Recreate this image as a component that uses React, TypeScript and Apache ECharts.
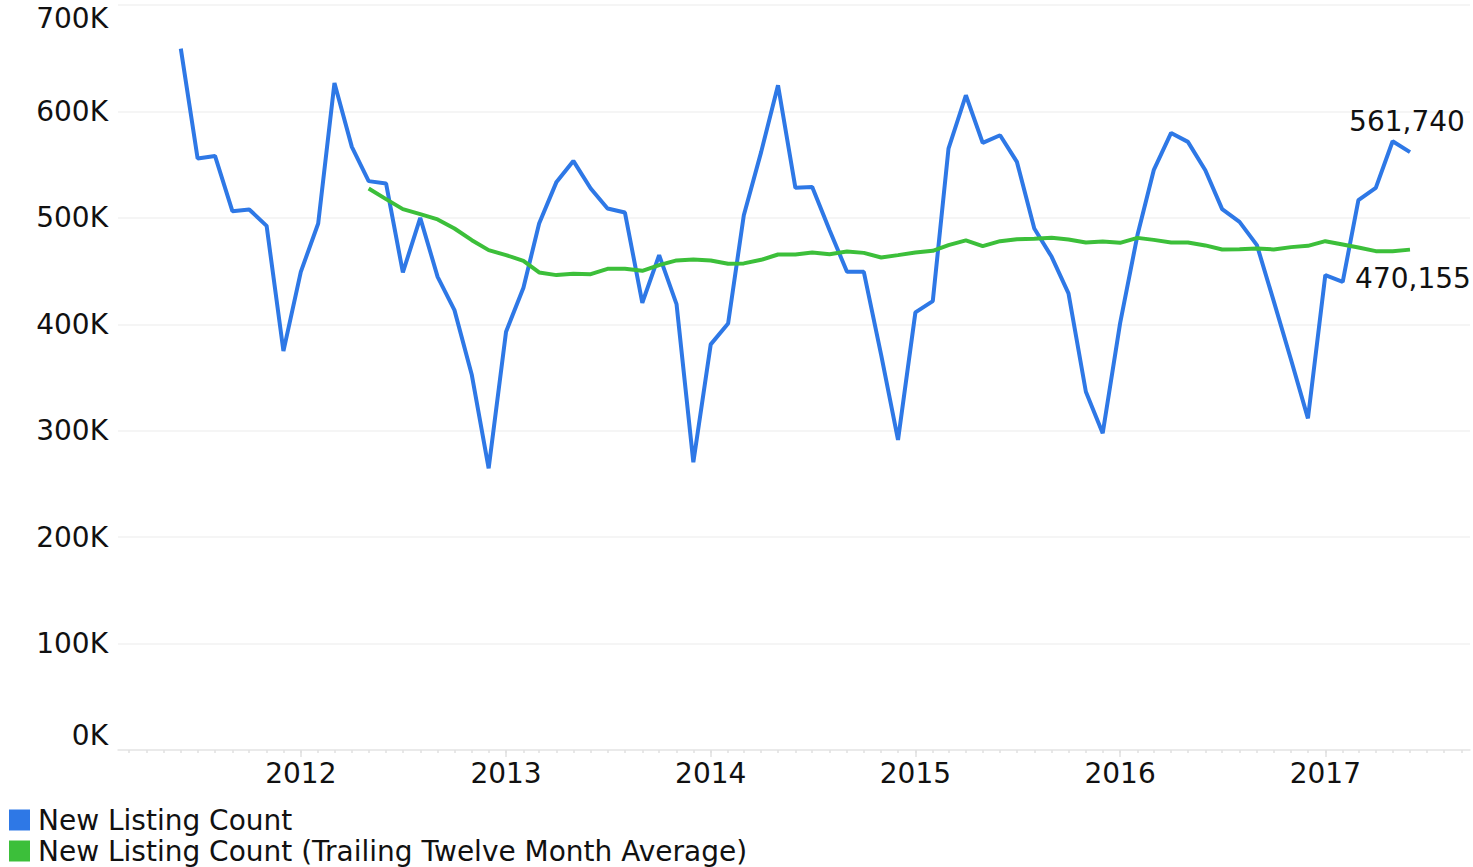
import React, { useEffect, useRef } from "react";
import * as echarts from "echarts";

const MONTHS = [
  "2011-06", "2011-07", "2011-08", "2011-09", "2011-10", "2011-11", "2011-12",
  "2012-01", "2012-02", "2012-03", "2012-04", "2012-05", "2012-06", "2012-07", "2012-08", "2012-09", "2012-10", "2012-11", "2012-12",
  "2013-01", "2013-02", "2013-03", "2013-04", "2013-05", "2013-06", "2013-07", "2013-08", "2013-09", "2013-10", "2013-11", "2013-12",
  "2014-01", "2014-02", "2014-03", "2014-04", "2014-05", "2014-06", "2014-07", "2014-08", "2014-09", "2014-10", "2014-11", "2014-12",
  "2015-01", "2015-02", "2015-03", "2015-04", "2015-05", "2015-06", "2015-07", "2015-08", "2015-09", "2015-10", "2015-11", "2015-12",
  "2016-01", "2016-02", "2016-03", "2016-04", "2016-05", "2016-06", "2016-07", "2016-08", "2016-09", "2016-10", "2016-11", "2016-12",
  "2017-01", "2017-02", "2017-03", "2017-04", "2017-05", "2017-06",
];

const NEW_LISTING = [
  659000, 555800, 558200, 506300, 507900, 492500, 374800,
  449300, 494700, 626800, 566700, 534500, 532300, 448700, 500000, 444600, 413300, 352300, 264700,
  393000, 434300, 494700, 533800, 553500, 527600, 508800, 505000, 420200, 465000, 419000, 270300,
  381100, 400800, 502500, 562000, 624600, 528200, 529100, 488400, 449300, 449300, 371100, 291300,
  411200, 421800, 565000, 615200, 570400, 577600, 552600, 490000, 463400, 429000, 336600, 297600,
  400800, 483800, 544800, 579800, 571400, 544800, 508200, 496200, 474400, 421700, 366400, 311600,
  446200, 439900, 516600, 528200, 572000, 561740,
];

const TTM_START = "2012-05";
const TTM_AVG = [
  527600, 517600, 508200, 503500, 498500, 490000, 479000, 469700,
  465000, 459600, 448700, 446200, 447400, 447100, 452100, 452100, 450200, 455600, 460000, 460900,
  460000, 456800, 457200, 460600, 465600, 465600, 467500, 465900, 468400, 467100, 462800, 465000,
  467500, 469000, 474400, 478800, 473400, 478100, 480000, 480300, 481200, 479700, 476900, 477800,
  476500, 481200, 479300, 476900, 476900, 474100, 470300, 470600, 471300, 470300, 472500, 473700,
  478100, 475000, 472200, 468700, 468700, 470155,
];

const YEAR_LABELS = ["2012", "2013", "2014", "2015", "2016", "2017"];
const Y_MAX = 700000;
const Y_STEP = 100000;
const X_MIN = "2011-02-09";
const X_MAX = "2017-09-16";

const SERIES_NAMES = ["New Listing Count", "New Listing Count (Trailing Twelve Month Average)"];
const COLORS = ["#2E78E6", "#3CBF3A"];
const FONT = "DejaVu Sans";
const FS = 28;

const ts = (s: string) => {
  const [y, m, d] = s.split("-").map(Number);
  return Date.UTC(y, (m || 1) - 1, d || 1);
};

export default function App() {
  const ref = useRef<HTMLDivElement>(null);

  useEffect(() => {
    if (!ref.current) return;
    const chart = echarts.init(ref.current, null, { renderer: "svg" });

    const fmtNum = (v: number) => v.toLocaleString("en-US");
    const labelStyle = { fontSize: FS, fontFamily: FONT, color: "#111" };

    const blueData = MONTHS.map((m, i) => {
      const isLast = i === MONTHS.length - 1;
      return isLast
        ? {
            value: [ts(m), NEW_LISTING[i]],
            symbol: "circle",
            symbolSize: 0.01,
            label: {
              show: true,
              position: "top",
              distance: 17,
              offset: [-3, 0],
              formatter: () => fmtNum(NEW_LISTING[i]),
              ...labelStyle,
            },
          }
        : { value: [ts(m), NEW_LISTING[i]] };
    });

    const ttmOffset = MONTHS.indexOf(TTM_START);
    const greenData = TTM_AVG.map((v, i) => {
      const m = MONTHS[ttmOffset + i];
      const isLast = i === TTM_AVG.length - 1;
      return isLast
        ? {
            value: [ts(m), v],
            symbol: "circle",
            symbolSize: 0.01,
            label: {
              show: true,
              position: "bottom",
              distance: 15,
              offset: [3, 0],
              formatter: () => fmtNum(v),
              ...labelStyle,
            },
          }
        : { value: [ts(m), v] };
    });

    const yearTicks = YEAR_LABELS.map((y) => ts(y + "-01-01"));
    const monthTicks: number[] = [];
    {
      const start = new Date(ts(X_MIN));
      let y = start.getUTCFullYear();
      let mo = start.getUTCMonth() + 1;
      const end = ts(X_MAX);
      while (true) {
        if (mo > 11) { mo = 0; y++; }
        const t = Date.UTC(y, mo, 1);
        if (t > end) break;
        monthTicks.push(t);
        mo++;
      }
    }

    chart.setOption({
      animation: false,
      backgroundColor: "#ffffff",
      textStyle: { fontFamily: FONT },
      grid: { left: 118, right: 3, top: 5, bottom: 117, containLabel: false },
      legend: {
        orient: "vertical",
        left: 9,
        bottom: 2,
        padding: 0,
        itemWidth: 21,
        itemHeight: 21,
        itemGap: 3,
        icon: "rect",
        textStyle: { ...labelStyle, lineHeight: 24, padding: [0, 0, 0, 3] },
        data: SERIES_NAMES,
      },
      xAxis: [
        {
          type: "value",
          min: ts(X_MIN),
          max: ts(X_MAX),
          axisLine: { show: true, lineStyle: { color: "#e6e6e6", width: 1.5 } },
          axisTick: { show: true, customValues: yearTicks, length: 7, lineStyle: { color: "#e0e0e0", width: 1.5 } },
          axisLabel: {
            customValues: yearTicks,
            formatter: (v: number) => String(new Date(v).getUTCFullYear()),
            margin: 9,
            ...labelStyle,
          },
          splitLine: { show: false },
        },
        {
          type: "value",
          min: ts(X_MIN),
          max: ts(X_MAX),
          position: "bottom",
          axisLine: { show: false },
          axisTick: { show: true, customValues: monthTicks, length: 3, lineStyle: { color: "#e0e0e0", width: 1.5 } },
          axisLabel: { show: false },
          splitLine: { show: false },
        },
      ],
      yAxis: {
        type: "value",
        min: 0,
        max: Y_MAX,
        interval: Y_STEP,
        axisLine: { show: false },
        axisTick: { show: false },
        splitLine: { show: true, lineStyle: { color: "#f2f2f2", width: 1.5 } },
        axisLabel: {
          margin: 10,
          ...labelStyle,
          formatter: (v: number) => {
            const t = `${v / 1000}K`;
            if (v === Y_MAX) return `{top|${t}}`;
            if (v === 0) return `{bot|${t}}`;
            return `{mid|${t}}`;
          },
          rich: {
            top: { ...labelStyle, padding: [26, 0, 0, 0] },
            bot: { ...labelStyle, padding: [0, 0, 30, 0] },
            mid: { ...labelStyle },
          },
        },
      },
      series: [
        {
          name: SERIES_NAMES[0],
          type: "line",
          xAxisIndex: 0,
          data: blueData,
          symbol: "none",
          showSymbol: true,
          color: COLORS[0],
          lineStyle: { color: COLORS[0], width: 4 },
          label: { show: false },
          emphasis: { disabled: true },
        },
        {
          name: SERIES_NAMES[1],
          type: "line",
          xAxisIndex: 0,
          data: greenData,
          symbol: "none",
          showSymbol: true,
          color: COLORS[1],
          lineStyle: { color: COLORS[1], width: 4 },
          label: { show: false },
          emphasis: { disabled: true },
        },
      ],
    });

    return () => chart.dispose();
  }, []);

  return (
    <div
      ref={ref}
      style={{ position: "absolute", left: 0, top: 0, width: 1473, height: 867 }}
    />
  );
}
